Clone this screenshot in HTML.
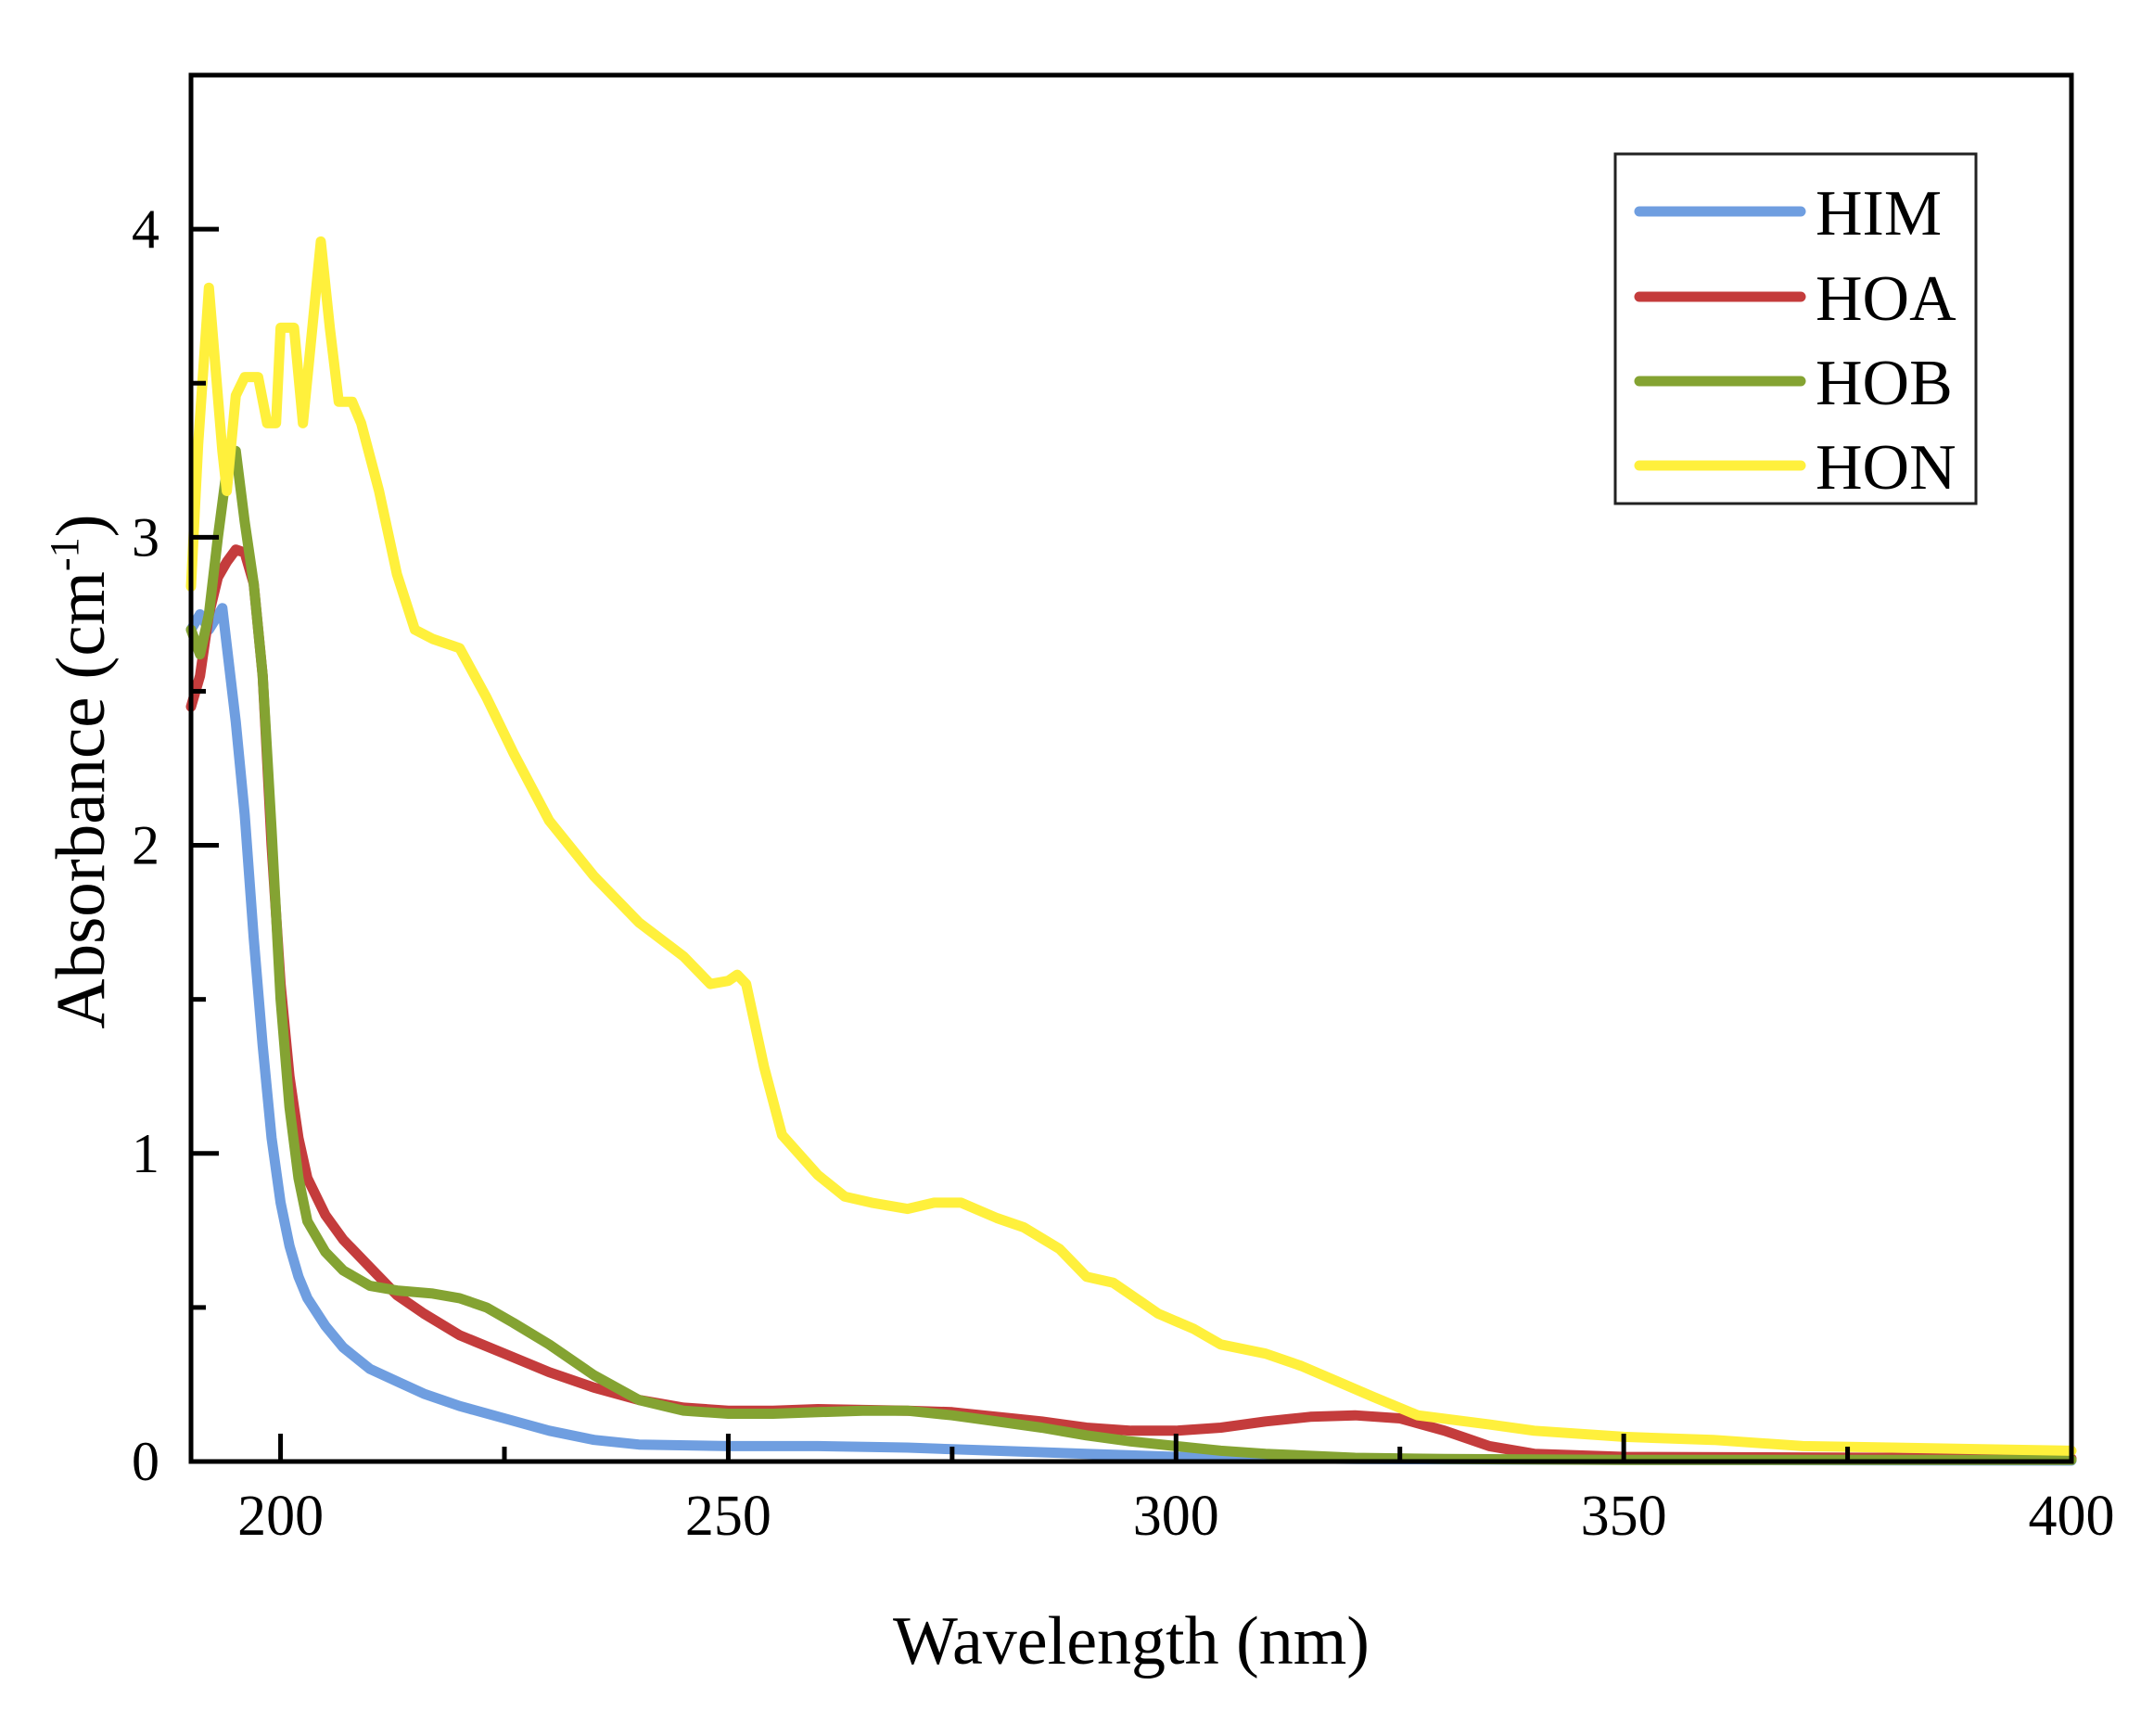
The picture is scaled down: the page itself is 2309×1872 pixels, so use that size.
<!DOCTYPE html>
<html><head><meta charset="utf-8"><style>
html,body{margin:0;padding:0;background:#fff;}
svg{display:block;}
text{font-family:"Liberation Serif",serif;fill:#000;}
</style></head><body>
<svg id="chart" width="2309" height="1872" viewBox="0 0 2309 1872" xmlns="http://www.w3.org/2000/svg">
<g id="plot"></g>
</svg>
<script>
const xTicksMajor = [200, 250, 300, 350, 400];
const xTicksMinor = [225, 275, 325, 375];
const yTicksMajor = [0, 1, 2, 3, 4];
const yTicksMinor = [0.5, 1.5, 2.5, 3.5];
const seriesNames = ["HIM", "HOA", "HOB", "HON"];
const seriesColors = ["#6f9ee0", "#c43c3c", "#84a332", "#fff03c"];
const himX = [190,191,192,193.5,195,196,197,198,199,200,201,202,203,205,207,210,213,216,220,225,230,235,240,250,260,270,280,290,300,320,350,400];
const himY = [2.7,2.75,2.7,2.77,2.4,2.1,1.7,1.35,1.05,0.84,0.7,0.6,0.53,0.44,0.37,0.3,0.26,0.22,0.18,0.14,0.1,0.07,0.055,0.05,0.05,0.045,0.035,0.025,0.015,0.008,0.005,0.003];
const hoaX = [190,191,192,193,194,195,196,197,198,199,200,201,202,203,205,207,210,213,216,220,225,230,235,240,245,250,255,260,270,275,280,285,290,295,300,305,310,315,320,325,330,335,340,350,400];
const hoaY = [2.45,2.55,2.75,2.87,2.92,2.96,2.95,2.85,2.55,2.0,1.55,1.25,1.05,0.92,0.8,0.72,0.63,0.54,0.48,0.41,0.35,0.29,0.24,0.2,0.175,0.165,0.165,0.17,0.165,0.16,0.145,0.13,0.11,0.1,0.1,0.11,0.13,0.145,0.15,0.14,0.1,0.05,0.025,0.015,0.01];
const hobX = [190,191,192,193,194,195,196,197,198,199,200,201,202,203,205,207,210,213,217,220,223,226,230,235,240,245,250,255,260,265,270,275,280,285,290,295,300,305,310,320,330,350,400];
const hobY = [2.7,2.62,2.75,3.0,3.22,3.28,3.05,2.85,2.55,2.05,1.5,1.15,0.92,0.78,0.68,0.62,0.57,0.555,0.545,0.53,0.5,0.45,0.38,0.28,0.2,0.165,0.155,0.155,0.16,0.165,0.165,0.15,0.13,0.11,0.085,0.065,0.05,0.035,0.025,0.012,0.008,0.005,0.005];
const honX = [190,190.8,192,193.5,194,195,196,197.5,198.5,199.5,200,201.5,202.5,204.5,205.5,206.5,208,209,211,213,215,217,220,223,226,230,235,240,245,248,250,251,252,254,256,260,263,266,270,273,276,280,283,287,290,293,296,298,302,305,310,314,318,322,327,335,340,350,360,370,380,390,400];
const honY = [2.84,3.3,3.81,3.28,3.15,3.46,3.52,3.52,3.37,3.37,3.68,3.68,3.37,3.96,3.68,3.44,3.44,3.37,3.15,2.88,2.7,2.67,2.64,2.48,2.3,2.08,1.9,1.75,1.64,1.55,1.56,1.58,1.55,1.28,1.06,0.93,0.86,0.84,0.82,0.84,0.84,0.79,0.76,0.69,0.6,0.58,0.52,0.48,0.43,0.38,0.35,0.31,0.26,0.21,0.15,0.12,0.1,0.08,0.07,0.05,0.045,0.04,0.035];

const L=206, R=2234, T=81, B=1576;
const xMin=190, xMax=400, yMin=0, yMax=4.5;
const sx = v => L + (v - xMin) / (xMax - xMin) * (R - L);
const sy = v => B - (v - yMin) / (yMax - yMin) * (B - T);
const NS="http://www.w3.org/2000/svg";
const g=document.getElementById('plot');
function mk(tag, attrs){const e=document.createElementNS(NS,tag);for(const k in attrs)e.setAttribute(k,attrs[k]);g.appendChild(e);return e;}

const allX=[himX,hoaX,hobX,honX], allY=[himY,hoaY,hobY,honY];
for(let s=0;s<4;s++){
  const pts=allX[s].map((x,i)=>sx(x).toFixed(1)+','+sy(allY[s][i]).toFixed(1)).join(' ');
  const p=mk('polyline',{points:pts,fill:'none',stroke:seriesColors[s],'stroke-width':11,'stroke-linejoin':'round','stroke-linecap':'round'});
  
  
}
const fr=mk('rect',{x:L,y:T,width:R-L,height:B-T,fill:'none',stroke:'#000','stroke-width':5});


xTicksMajor.forEach(v=>{
  const t=mk('line',{x1:sx(v),x2:sx(v),y1:B,y2:B-30,stroke:'#000','stroke-width':5});
  
  
  const lb=mk('text',{x:sx(v),y:1655,'text-anchor':'middle','font-size':62});
  lb.textContent=v;
  
  
});
xTicksMinor.forEach(v=>{
  const t=mk('line',{x1:sx(v),x2:sx(v),y1:B,y2:B-16,stroke:'#000','stroke-width':5});
  
  
});
yTicksMajor.forEach(v=>{
  const t=mk('line',{x1:L,x2:L+30,y1:sy(v),y2:sy(v),stroke:'#000','stroke-width':5});
  
  
  const lb=mk('text',{x:172,y:sy(v)+20,'text-anchor':'end','font-size':60});
  lb.textContent=v;
  
  
});
yTicksMinor.forEach(v=>{
  const t=mk('line',{x1:L,x2:L+16,y1:sy(v),y2:sy(v),stroke:'#000','stroke-width':5});
  
  
});
const xt=mk('text',{x:1220,y:1794,'text-anchor':'middle','font-size':74});
xt.textContent='Wavelength (nm)';


const yt=mk('text',{x:0,y:0,'text-anchor':'middle','font-size':75,transform:'translate(112,832) rotate(-90)'});
yt.innerHTML='Absorbance (cm<tspan dy="-28" font-size="44">-1</tspan><tspan dy="28">)</tspan>';


const lg=mk('rect',{x:1742,y:166,width:389,height:377,fill:'#fff',stroke:'#222','stroke-width':3});


const ly=[228,320,411,502];
for(let s=0;s<4;s++){
  const ln=mk('line',{x1:1768,x2:1942,y1:ly[s],y2:ly[s],stroke:seriesColors[s],'stroke-width':11,'stroke-linecap':'round'});
  
  
  const tx=mk('text',{x:1958,y:ly[s]+25,'font-size':70});
  tx.textContent=seriesNames[s];
  
  
}
</script>
</body></html>
